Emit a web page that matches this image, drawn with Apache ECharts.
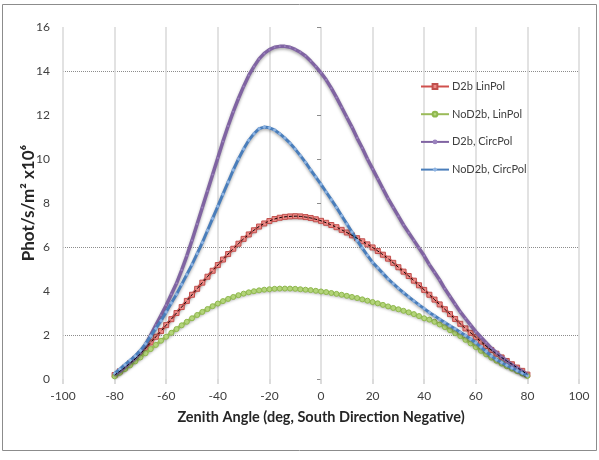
<!DOCTYPE html>
<html>
<head>
<meta charset="utf-8">
<script src="https://cdn.jsdelivr.net/npm/echarts@6/dist/echarts.min.js"></script>
<style>
  html, body { margin: 0; padding: 0; background: #fff; }
  #chart { width: 599px; height: 460px; }
</style>
</head>
<body>
<div id="chart"></div>
<script>
// zenith angles, -80..80 step 2
const angles = [
  -80, -78, -76, -74, -72, -70, -68, -66, -64, -62, -60, -58, -56, -54, -52, -50, -48, -46, -44, -42, -40,
  -38, -36, -34, -32, -30, -28, -26, -24, -22, -20, -18, -16, -14, -12, -10, -8, -6, -4, -2, 0,
  2, 4, 6, 8, 10, 12, 14, 16, 18, 20, 22, 24, 26, 28, 30, 32, 34, 36, 38, 40,
  42, 44, 46, 48, 50, 52, 54, 56, 58, 60, 62, 64, 66, 68, 70, 72, 74, 76, 78, 80
]

const d2bLin = [
  0.18, 0.35, 0.52, 0.72, 0.92, 1.15, 1.4, 1.66, 1.92, 2.18, 2.45, 2.72, 3.0, 3.27, 3.55, 3.83, 4.1, 4.38, 4.65, 4.92, 5.18,
  5.43, 5.68, 5.92, 6.15, 6.37, 6.57, 6.76, 6.93, 7.07, 7.18, 7.27, 7.33, 7.37, 7.39, 7.4, 7.39, 7.36, 7.32, 7.26, 7.19,
  7.1, 7.0, 6.9, 6.78, 6.66, 6.53, 6.4, 6.26, 6.12, 5.98, 5.82, 5.65, 5.47, 5.28, 5.08, 4.88, 4.68, 4.47, 4.26, 4.05,
  3.83, 3.61, 3.39, 3.17, 2.95, 2.73, 2.51, 2.3, 2.1, 1.9, 1.7, 1.5, 1.32, 1.15, 0.98, 0.82, 0.67, 0.52, 0.37, 0.2
]

const noD2bLin = [
  0.12, 0.28, 0.45, 0.62, 0.8, 0.98, 1.17, 1.36, 1.55, 1.74, 1.92, 2.1, 2.27, 2.44, 2.6, 2.76, 2.91, 3.05, 3.18, 3.31, 3.43,
  3.54, 3.64, 3.73, 3.81, 3.88, 3.94, 3.99, 4.03, 4.06, 4.08, 4.1, 4.11, 4.11, 4.11, 4.1, 4.08, 4.06, 4.04, 4.01, 3.98,
  3.95, 3.91, 3.87, 3.83, 3.78, 3.73, 3.68, 3.62, 3.56, 3.5, 3.44, 3.37, 3.3, 3.23, 3.17, 3.1, 3.03, 2.95, 2.86, 2.76,
  2.7, 2.6, 2.48, 2.36, 2.22, 2.09, 1.95, 1.78, 1.62, 1.45, 1.28, 1.12, 0.97, 0.83, 0.7, 0.58, 0.47, 0.36, 0.25, 0.14
]

const d2bCirc = [
  0.2, 0.35, 0.55, 0.75, 0.95, 1.2, 1.55, 2.0, 2.45, 2.9, 3.35, 3.85, 4.35, 4.95, 5.6, 6.3, 7.05, 7.8, 8.55, 9.3, 10.05,
  10.8, 11.5, 12.15, 12.75, 13.3, 13.8, 14.2, 14.55, 14.8, 14.97, 15.08, 15.12, 15.12, 15.08, 14.98, 14.85, 14.68, 14.45, 14.2, 13.92,
  13.6, 13.22, 12.8, 12.35, 11.9, 11.45, 10.95, 10.5, 10.0, 9.55, 9.1, 8.65, 8.2, 7.8, 7.4, 7.0, 6.65, 6.3, 5.95, 5.6,
  5.2, 4.85, 4.5, 4.1, 3.75, 3.4, 3.05, 2.75, 2.45, 2.15, 1.9, 1.65, 1.4, 1.2, 1.0, 0.82, 0.65, 0.5, 0.35, 0.2
]

const noD2bCirc = [
  0.25, 0.45, 0.65, 0.85, 1.05, 1.3, 1.6, 1.95, 2.3, 2.65, 3.05, 3.45, 3.85, 4.3, 4.75, 5.2, 5.7, 6.2, 6.75, 7.3, 7.85,
  8.4, 8.95, 9.5, 10.0, 10.45, 10.85, 11.15, 11.38, 11.45, 11.42, 11.32, 11.15, 10.95, 10.72, 10.45, 10.15, 9.85, 9.5, 9.18, 8.85,
  8.5, 8.15, 7.8, 7.42, 7.05, 6.68, 6.3, 5.95, 5.62, 5.3, 5.05, 4.8, 4.55, 4.33, 4.12, 3.92, 3.73, 3.55, 3.37, 3.2,
  3.02, 2.87, 2.72, 2.57, 2.42, 2.28, 2.13, 1.98, 1.82, 1.65, 1.45, 1.25, 1.05, 0.88, 0.75, 0.62, 0.5, 0.38, 0.27, 0.15
]

const seriesNames = ['D2b LinPol', 'NoD2b, LinPol', 'D2b, CircPol', 'NoD2b, CircPol']

const pairs = vals => angles.map((a, i) => [a, vals[i]])
const font = 'Lato, "Open Sans", sans-serif'
const shadow = { shadowColor: 'rgba(0,0,0,0.35)', shadowBlur: 3, shadowOffsetY: 1.5 }

let chart = echarts.init(document.getElementById('chart'))

chart.setOption({
  animation: false,
  textStyle: { fontFamily: font },
  graphic: [
    {
      type: 'rect',
      shape: { x: 2.5, y: 4.5, width: 594, height: 446 },
      style: { fill: 'none', stroke: '#8c8c8c', lineWidth: 1 },
      silent: true
    }
  ],
  grid: { left: 63, right: 20, top: 27, bottom: 81 },
  legend: {
    orient: 'vertical',
    left: 415,
    top: 76,
    itemWidth: 28,
    itemHeight: 6,
    itemGap: 16.7,
    data: seriesNames,
    textStyle: { fontSize: 11, color: '#404040', fontFamily: font, padding: [0, 0, 0, -2] }
  },
  xAxis: {
    type: 'value',
    min: -100,
    max: 100,
    interval: 20,
    name: 'Zenith Angle (deg, South Direction Negative)',
    nameLocation: 'middle',
    nameGap: 31,
    nameTextStyle: { fontSize: 14.5, fontWeight: 'bold', color: '#262626' },
    axisLine: { show: false },
    axisTick: { show: true, length: 5, lineStyle: { color: '#d0d0d0', width: 1.5 } },
    axisLabel: { fontSize: 12, color: '#404040', margin: 11 },
    splitLine: { show: true, lineStyle: { color: '#d9d9d9', width: 1.5 } }
  },
  yAxis: {
    type: 'value',
    min: 0,
    max: 16,
    interval: 2,
    name: 'Phot/s/m² x10⁶',
    nameLocation: 'middle',
    nameGap: 26,
    nameMoveOverlap: false,
    nameTextStyle: { fontSize: 17, fontWeight: 'bold', color: '#262626' },
    axisLine: { show: false },
    axisTick: { show: true, length: 4, lineStyle: { color: '#8c8c8c' } },
    axisLabel: { fontSize: 12, color: '#404040', margin: 13 },
    splitLine: {
      show: true,
      lineStyle: {
        // only the 2, 6 and 14 lines are drawn in the original
        color: ['rgba(0,0,0,0)', '#8c8c8c', 'rgba(0,0,0,0)', '#8c8c8c', 'rgba(0,0,0,0)',
                'rgba(0,0,0,0)', 'rgba(0,0,0,0)', '#8c8c8c', 'rgba(0,0,0,0)'],
        type: 'dotted',
        width: 1
      }
    }
  },
  series: [
    {
      name: seriesNames[0],
      type: 'line',
      data: pairs(d2bLin),
      symbol: 'rect',
      symbolSize: 5,
      itemStyle: { color: '#ee8a87', borderColor: '#c0504d', borderWidth: 1 },
      lineStyle: Object.assign({ color: '#d0504d', width: 3 }, shadow),
      z: 2
    },
    {
      name: seriesNames[1],
      type: 'line',
      data: pairs(noD2bLin),
      symbol: 'circle',
      symbolSize: 5,
      itemStyle: { color: '#b3d47a', borderColor: '#8fb84e', borderWidth: 1 },
      lineStyle: Object.assign({ color: '#9bbb59', width: 3 }, shadow),
      z: 3
    },
    {
      name: seriesNames[2],
      type: 'line',
      data: pairs(d2bCirc),
      symbol: 'circle',
      symbolSize: 2,
      itemStyle: { color: '#9a82bd' },
      lineStyle: Object.assign({ color: '#8064a2', width: 3.5 }, shadow),
      z: 4
    },
    {
      name: seriesNames[3],
      type: 'line',
      data: pairs(noD2bCirc),
      symbol: 'diamond',
      symbolSize: 4,
      itemStyle: { color: '#8db3e2' },
      lineStyle: Object.assign({ color: '#4a7ebb', width: 3 }, shadow),
      z: 5
    },
    {
      // dashed fit line drawn over the red curve
      name: 'fit',
      type: 'line',
      data: pairs(d2bLin),
      symbol: 'none',
      smooth: true,
      lineStyle: { color: '#000', width: 1, type: [3, 2] },
      z: 6
    }
  ]
})
</script>
</body>
</html>
